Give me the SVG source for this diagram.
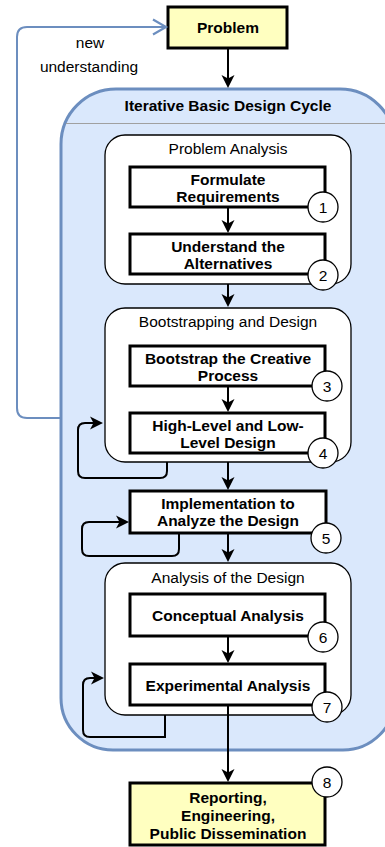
<svg xmlns="http://www.w3.org/2000/svg" width="385" height="847" viewBox="0 0 385 847">
<style>
text{font-family:"Liberation Sans",Arial,Helvetica,sans-serif;font-size:15.5px;fill:#000;text-anchor:middle}
.b{font-weight:bold}
.box{fill:#fff;stroke:#000;stroke-width:3}
.yel{fill:#ffffc0;stroke:#000;stroke-width:3}
.grp{fill:#fff;stroke:#000;stroke-width:1.3}
.num{fill:#fff;stroke:#000;stroke-width:1.3}
.c{fill:none;stroke:#000;stroke-width:2;marker-end:url(#arr)}
.fb{fill:none;stroke:#6c8ebf;stroke-width:2;marker-end:url(#oarr)}
</style>
<defs>
<marker id="arr" markerUnits="userSpaceOnUse" markerWidth="14" markerHeight="14" viewBox="0 0 14 14" refX="9" refY="7" orient="auto">
<path d="M0,0.5 L13,7 L0,13.5 L3.5,7 Z" fill="#000"/>
</marker>
<marker id="oarr" markerUnits="userSpaceOnUse" markerWidth="18" markerHeight="18" viewBox="0 0 18 18" refX="14" refY="9" orient="auto">
<path d="M2,1.5 L15,9 L2,16.5" fill="none" stroke="#6c8ebf" stroke-width="2.2"/>
</marker>
</defs>
<g id="container">
<path d="M61,144 A55,55 0 0 1 116,89 L340,89 A55,55 0 0 1 395,144 L395,698 A52,52 0 0 1 343,750 L113,750 A52,52 0 0 1 61,698 Z" fill="#dae8fc" stroke="#6c8ebf" stroke-width="3"/>
<line x1="66" y1="123.5" x2="390" y2="123.5" stroke="#a0a0a0" stroke-width="1"/>
<text class="b" x="228" y="111">Iterative Basic Design Cycle</text>
</g>
<g id="problem">
<rect class="yel" x="168" y="7" width="119" height="41"/>
<text class="b" x="228" y="33">Problem</text>
</g>
<g id="group-problem-analysis">
<rect class="grp" x="105" y="135" width="246" height="149" rx="20"/>
<text x="228" y="154">Problem Analysis</text>
</g>
<g id="group-bootstrapping">
<rect class="grp" x="105" y="308" width="246" height="154" rx="20"/>
<text x="228" y="327">Bootstrapping and Design</text>
</g>
<g id="group-analysis">
<rect class="grp" x="105" y="563" width="246" height="152" rx="20"/>
<text x="228" y="583">Analysis of the Design</text>
</g>
<g id="formulate">
<rect class="box" x="130" y="167" width="195" height="40"/>
<text class="b" x="228" y="185">Formulate</text>
<text class="b" x="228" y="202">Requirements</text>
<circle class="num" cx="323" cy="207" r="15"/>
<text x="323" y="212.5">1</text>
</g>
<g id="understand">
<rect class="box" x="130" y="234" width="195" height="40"/>
<text class="b" x="228" y="252">Understand the</text>
<text class="b" x="228" y="268.5">Alternatives</text>
<circle class="num" cx="323" cy="275" r="15"/>
<text x="323" y="280.5">2</text>
</g>
<g id="bootstrap">
<rect class="box" x="130" y="346" width="195" height="40"/>
<text class="b" x="228" y="363.5">Bootstrap the Creative</text>
<text class="b" x="228" y="380.5">Process</text>
<circle class="num" cx="327" cy="386" r="15"/>
<text x="327" y="391.5">3</text>
</g>
<g id="highlevel">
<rect class="box" x="130" y="413" width="195" height="40"/>
<text class="b" x="228" y="430.5">High-Level and Low-</text>
<text class="b" x="228" y="447.5">Level Design</text>
<circle class="num" cx="323" cy="453" r="15"/>
<text x="323" y="458.5">4</text>
</g>
<g id="implementation">
<rect class="box" x="130" y="491" width="196" height="42"/>
<text class="b" x="228" y="509">Implementation to</text>
<text class="b" x="228" y="526">Analyze the Design</text>
<circle class="num" cx="326" cy="538" r="15"/>
<text x="326" y="543.5">5</text>
</g>
<g id="conceptual">
<rect class="box" x="130" y="594" width="195" height="42"/>
<text class="b" x="228" y="621">Conceptual Analysis</text>
<circle class="num" cx="323" cy="637" r="15"/>
<text x="323" y="642.5">6</text>
</g>
<g id="experimental">
<rect class="box" x="130" y="664" width="195" height="41"/>
<text class="b" x="228" y="691">Experimental Analysis</text>
<circle class="num" cx="327" cy="707" r="15"/>
<text x="327" y="712.5">7</text>
</g>
<g id="reporting">
<rect class="yel" x="130" y="783" width="195" height="62"/>
<text class="b" x="228" y="803">Reporting,</text>
<text class="b" x="228" y="821">Engineering,</text>
<text class="b" x="228" y="839">Public Dissemination</text>
<circle class="num" cx="327" cy="782" r="15"/>
<text x="327" y="787.5">8</text>
</g>
<g id="connectors">
<path class="c" d="M228,48 L228,84"/>
<path class="c" d="M228,207 L228,229"/>
<path class="c" d="M228,284 L228,303"/>
<path class="c" d="M228,386 L228,408"/>
<path class="c" d="M228,462 L228,486"/>
<path class="c" d="M228,533 L228,558"/>
<path class="c" d="M228,636 L228,659"/>
<path class="c" d="M228,705 L228,778"/>
<path class="c" d="M167,462 L167,471 Q167,478 160,478 L85,478 Q78,478 78,471 L78,430 Q78,423 85,423 L99,423"/>
<path class="c" d="M179,533 L179,549 Q179,556 172,556 L89,556 Q82,556 82,549 L82,529 Q82,522 89,522 L125,522"/>
<path class="c" d="M165,715 L165,737 L90,737 Q83,737 83,730 L83,685 Q83,678 90,678 L100,678"/>
<path class="fb" d="M61,418 L27,418 Q17,418 17,408 L17,37 Q17,27 27,27 L165,27"/>
<text x="90" y="48">new</text>
<text x="89" y="72">understanding</text>
</g>
</svg>
